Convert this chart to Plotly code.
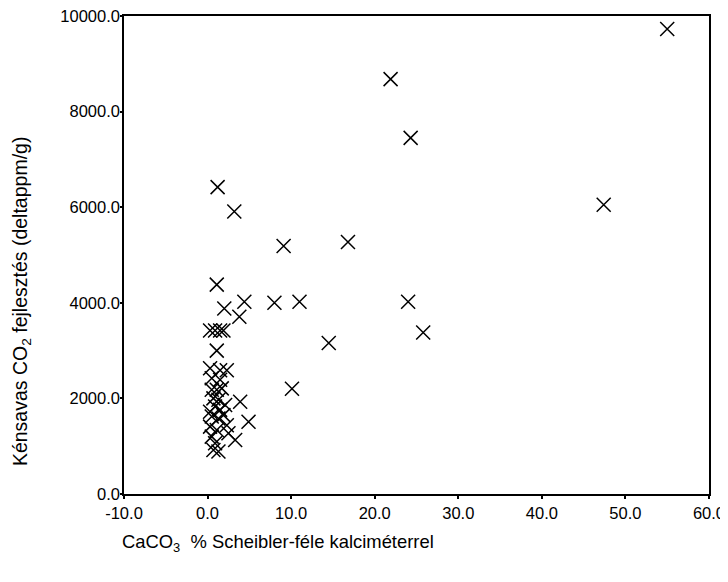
import plotly.graph_objects as go

caco3 = [55.0, 21.9, 24.3, 47.4, 1.2, 3.2, 9.1, 16.8, 1.1, 24.0, 25.8, 14.5, 10.1,
         8.0, 11.0, 4.4, 3.8, 2.0, 0.3, 0.9, 1.5, 1.9, 1.1,
         0.3, 1.5, 2.3, 0.5, 1.5, 0.5, 1.1, 1.7, 3.9, 0.7, 1.3, 2.1, 0.9, 1.5,
         4.9, 0.5, 1.3, 2.3, 0.3, 1.1, 3.3, 2.5, 0.5, 0.9, 0.7, 1.3, 0.3, 1.9]
co2 = [9730, 8680, 7450, 6050, 6420, 5910, 5190, 5270, 4380, 4020, 3380, 3160, 2200,
       4000, 4020, 4020, 3710, 3880, 3420, 3420, 3420, 3420, 3000,
       2630, 2590, 2590, 2420, 2390, 2180, 2180, 2210, 1930, 2000, 1970, 1860, 1830, 1760,
       1510, 1620, 1580, 1440, 1410, 1340, 1130, 1270, 1200, 1060, 920, 890, 1720, 1650]

x_ticks = [-10, 0, 10, 20, 30, 40, 50, 60]
y_ticks = [0, 2000, 4000, 6000, 8000, 10000]

font_family = "Liberation Sans, Arial, sans-serif"

fig = go.Figure()
fig.add_trace(go.Scatter(
    x=caco3, y=co2, mode="markers",
    marker=dict(symbol="x-thin-open", size=14, color="black",
                line=dict(color="black", width=1.5)),
    showlegend=False,
))

fig.update_layout(
    width=720, height=574,
    margin=dict(l=116, r=19, t=8, b=88),
    paper_bgcolor="white", plot_bgcolor="white",
    font=dict(family=font_family, size=16.5, color="black"),
    xaxis=dict(range=[-10, 60], tickvals=x_ticks,
               ticktext=[f"{v:.1f}" for v in x_ticks],
               automargin=False, ticklabeloverflow="allow",
               showgrid=False, zeroline=False, showline=True, mirror=True,
               linecolor="black", linewidth=1.5,
               ticks="outside", ticklen=3, tickwidth=2, tickcolor="black",
               tickfont=dict(size=16.5)),
    yaxis=dict(range=[0, 10000], tickvals=y_ticks,
               ticktext=[f"{v:.1f}" for v in y_ticks],
               automargin=False, ticklabeloverflow="allow",
               ticklabelstandoff=-3,
               showgrid=False, zeroline=False, showline=True, mirror=True,
               linecolor="black", linewidth=1.5,
               ticks="outside", ticklen=2, tickwidth=2, tickcolor="black",
               tickfont=dict(size=16.5)),
)

fig.add_annotation(
    text="CaCO<sub>3</sub>  % Scheibler-féle kalciméterrel",
    xref="paper", yref="paper", x=-0.007, y=-0.1025,
    xanchor="left", yanchor="middle", showarrow=False,
    font=dict(size=18.4, family=font_family, color="black"),
)
fig.add_annotation(
    text="Kénsavas CO<sub>2</sub> fejlesztés (deltappm/g)",
    xref="paper", yref="paper", x=-0.174, y=0.404,
    xanchor="center", yanchor="middle", textangle=-90, showarrow=False,
    font=dict(size=19.5, family=font_family, color="black"),
)

fig.write_html("out.html")
